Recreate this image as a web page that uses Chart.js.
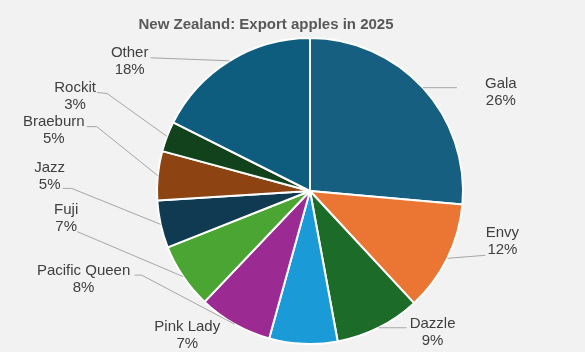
<!DOCTYPE html>
<html>
<head>
<meta charset="utf-8">
<title>Export apples 2025</title>
<script src="https://cdn.jsdelivr.net/npm/chart.js@4.4.1/dist/chart.umd.min.js"></script>
<style>
    html, body { margin: 0; padding: 0; background: #f2f2f2; }
    canvas { display: block; }
</style>
</head>
<body>
<canvas id="pieChart" width="585" height="352"></canvas>
<script>
const chartTitle = 'New Zealand: Export apples in 2025';
const varieties = ['Gala', 'Envy', 'Dazzle', 'Pink Lady', 'Pacific Queen', 'Fuji', 'Jazz', 'Braeburn', 'Rockit', 'Other'];
const shares = [26.4, 11.7, 9.0, 7.2, 7.8, 6.9, 5.0, 5.2, 3.2, 17.6];
const sliceColors = ['#175f80', '#eb7532', '#1d6b28', '#1a9ad6', '#9c2a93', '#4ba532', '#0f3a52', '#8e4313', '#11421b', '#0e5d7f'];

// where each label sits, measured from the outer middle point of its slice
const labelOffsets = [[78, -4], [55, -25], [54, -4], [-116, -17], [-151, -53], [-117, -67], [-111, -57], [-104, -54], [-92, -49], [-100, -8]];
// leader line bends, same reference point (empty = no line)
const leaderBends = [
    [[34, 0]],
    [[38, -3]],
    [[28, 0]],
    [],
    [[-93, -49], [-100, -49]],
    [[-106, -45]],
    [[-89, -36], [-98, -36]],
    [[-61, -49], [-71, -49]],
    [[-60, -43], [-70, -44]],
    [[-79, -3]]
];

const outsideLabels = {
    id: 'outsideLabels',
    afterDraw(chart) {
        const ctx = chart.ctx;
        const meta = chart.getDatasetMeta(0);
        const total = shares.reduce((a, b) => a + b, 0);

        ctx.save();
        // title
        ctx.fillStyle = '#595959';
        ctx.font = 'bold 15px "Liberation Sans", Arial, sans-serif';
        ctx.textAlign = 'center';
        ctx.textBaseline = 'alphabetic';
        ctx.fillText(chartTitle, 266, 29);

        meta.data.forEach((arc, i) => {
            const { x, y, startAngle, endAngle, outerRadius } = arc.getProps(['x', 'y', 'startAngle', 'endAngle', 'outerRadius'], true);
            const mid = (startAngle + endAngle) / 2;
            const px = x + Math.cos(mid) * outerRadius;
            const py = y + Math.sin(mid) * outerRadius;

            if (leaderBends[i].length) {
                ctx.strokeStyle = '#a6a6a6';
                ctx.lineWidth = 1;
                ctx.beginPath();
                ctx.moveTo(px, py);
                leaderBends[i].forEach(p => ctx.lineTo(px + p[0], py + p[1]));
                ctx.stroke();
            }

            const lx = px + labelOffsets[i][0];
            const ly = py + labelOffsets[i][1];
            ctx.fillStyle = '#404040';
            ctx.font = '15px "Liberation Sans", Arial, sans-serif';
            ctx.textBaseline = 'middle';
            ctx.fillText(varieties[i], lx, ly);
            ctx.fillText(Math.round(shares[i] / total * 100) + '%', lx, ly + 17);
        });
        ctx.restore();
    }
};

const ctx = document.getElementById('pieChart').getContext('2d');
new Chart(ctx, {
    type: 'pie',
    data: {
        labels: varieties,
        datasets: [{
            data: shares,
            backgroundColor: sliceColors,
            borderColor: '#ffffff',
            borderWidth: 2,
            hoverOffset: 0
        }]
    },
    options: {
        responsive: false,
        animation: false,
        layout: {
            padding: { top: 37, bottom: 7, left: 35, right: 0 }
        },
        plugins: {
            legend: { display: false },
            tooltip: { enabled: false }
        }
    },
    plugins: [outsideLabels]
});
</script>
</body>
</html>
